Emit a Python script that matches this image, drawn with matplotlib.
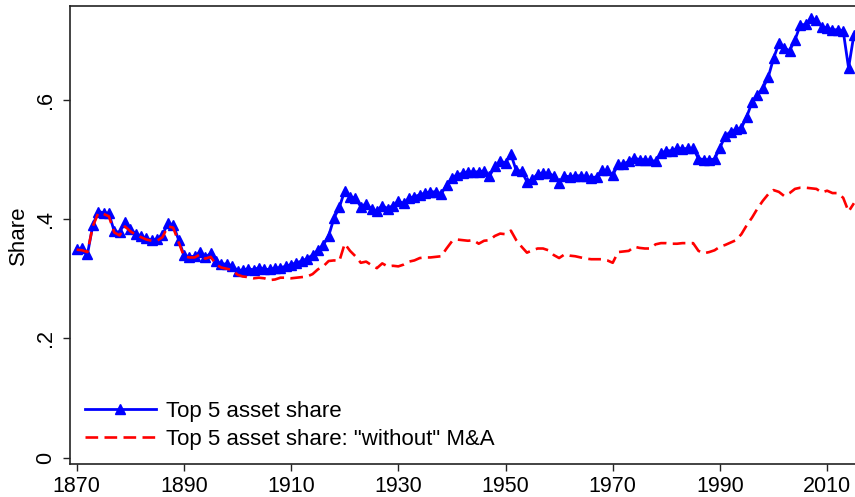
import numpy as np
import matplotlib
matplotlib.use("Agg")
import matplotlib.pyplot as plt
from matplotlib.ticker import FuncFormatter

plt.rcParams['font.family'] = ['Liberation Sans', 'DejaVu Sans']

years = np.arange(1870, 2016)

# Top 5 asset share (blue, triangles)
top5 = [
    0.350, 0.351, 0.341, 0.390, 0.413, 0.411, 0.410, 0.380, 0.378, 0.395,  # 1870s
    0.383, 0.376, 0.372, 0.368, 0.365, 0.367, 0.374, 0.393, 0.391, 0.366,  # 1880s
    0.340, 0.337, 0.338, 0.345, 0.336, 0.343, 0.330, 0.325, 0.325, 0.322,  # 1890s
    0.314, 0.315, 0.317, 0.315, 0.319, 0.316, 0.316, 0.318, 0.319, 0.321,  # 1900s
    0.324, 0.327, 0.330, 0.334, 0.340, 0.348, 0.357, 0.372, 0.402, 0.420,  # 1910s
    0.448, 0.437, 0.436, 0.421, 0.426, 0.417, 0.414, 0.423, 0.418, 0.423,  # 1920s
    0.430, 0.427, 0.435, 0.438, 0.441, 0.444, 0.446, 0.446, 0.443, 0.457,  # 1930s
    0.469, 0.475, 0.477, 0.480, 0.479, 0.480, 0.481, 0.472, 0.489, 0.497,  # 1940s
    0.495, 0.509, 0.482, 0.481, 0.463, 0.467, 0.476, 0.478, 0.477, 0.473,  # 1950s
    0.461, 0.473, 0.471, 0.473, 0.473, 0.472, 0.470, 0.471, 0.482, 0.482,  # 1960s
    0.474, 0.492, 0.493, 0.497, 0.503, 0.500, 0.500, 0.499, 0.497, 0.511,  # 1970s
    0.515, 0.515, 0.519, 0.518, 0.519, 0.519, 0.502, 0.500, 0.500, 0.501,  # 1980s
    0.520, 0.540, 0.547, 0.551, 0.553, 0.572, 0.597, 0.609, 0.620, 0.638,  # 1990s
    0.670, 0.695, 0.687, 0.683, 0.701, 0.726, 0.727, 0.737, 0.734, 0.723,  # 2000s
    0.721, 0.718, 0.718, 0.716, 0.654, 0.710,                              # 2010s
]

# Top 5 asset share without M&A (red, dashed)
no_ma = [
    0.349, 0.348, 0.345, 0.388, 0.410, 0.409, 0.405, 0.378, 0.373, 0.388,
    0.380, 0.374, 0.370, 0.366, 0.364, 0.364, 0.370, 0.388, 0.386, 0.362,
    0.338, 0.336, 0.336, 0.341, 0.334, 0.337, 0.324, 0.319, 0.317, 0.315,
    0.307, 0.304, 0.303, 0.301, 0.302, 0.301, 0.298, 0.299, 0.302, 0.302,
    0.301, 0.302, 0.303, 0.304, 0.308, 0.316, 0.321, 0.330, 0.331, 0.330,
    0.359, 0.347, 0.338, 0.327, 0.329, 0.323, 0.318, 0.326, 0.321, 0.322,
    0.321, 0.324, 0.329, 0.331, 0.335, 0.336, 0.336, 0.337, 0.338, 0.351,
    0.363, 0.366, 0.365, 0.364, 0.365, 0.359, 0.364, 0.365, 0.372, 0.376,
    0.375, 0.381, 0.365, 0.354, 0.344, 0.348, 0.351, 0.351, 0.348, 0.340,
    0.335, 0.341, 0.339, 0.338, 0.336, 0.334, 0.333, 0.333, 0.333, 0.331,
    0.327, 0.345, 0.346, 0.347, 0.354, 0.352, 0.351, 0.351, 0.358, 0.360,
    0.360, 0.359, 0.359, 0.360, 0.360, 0.360, 0.347, 0.343, 0.345, 0.348,
    0.354, 0.357, 0.361, 0.365, 0.375, 0.390, 0.403, 0.418, 0.431, 0.442,
    0.449, 0.446, 0.439, 0.444, 0.451, 0.453, 0.453, 0.452, 0.451, 0.445,
    0.448, 0.444, 0.444, 0.436, 0.413, 0.427,
]

xticks = [1870, 1890, 1910, 1930, 1950, 1970, 1990, 2010]
yticks = [0, 0.2, 0.4, 0.6]

fig = plt.figure(figsize=(8.55, 4.97), dpi=100)
ax = fig.add_axes([70 / 855, 33 / 497, 785 / 855, 458.3 / 497])

ax.plot(years, top5, color='#0000ff', lw=2.0, marker='^', ms=6.8,
        label='Top 5 asset share')
ax.plot(years, no_ma, color='#ff0000', lw=1.9, dashes=(4.8, 2.4),
        label='Top 5 asset share: "without" M&A')

ax.set_xlim(1868.75, 2015.2)
ax.set_ylim(-0.0106, 0.7584)
ax.set_xticks(xticks)
ax.set_yticks(yticks)
ax.yaxis.set_major_formatter(FuncFormatter(lambda v, p: '0' if v == 0 else ('%.1f' % v).lstrip('0')))

for s in ['left', 'bottom', 'top']:
    ax.spines[s].set_linewidth(1.2)
    ax.spines[s].set_color('#222222')
ax.spines['right'].set_visible(False)

ax.tick_params(axis='both', direction='out', length=5, width=1, labelsize=15.5, color='#222222')
ax.tick_params(axis='y', pad=5)
plt.setp(ax.get_yticklabels(), rotation=90, va='center')
ax.set_ylabel('Share', fontsize=16)
ax.yaxis.set_label_coords(-0.052, 0.5)

ax.legend(loc='lower left', bbox_to_anchor=(0.019, 0.031), frameon=False,
          fontsize=16, handlelength=3.2, handletextpad=0.45, labelspacing=0.3,
          borderpad=0, borderaxespad=0)

fig.savefig('out.png', dpi=100)
